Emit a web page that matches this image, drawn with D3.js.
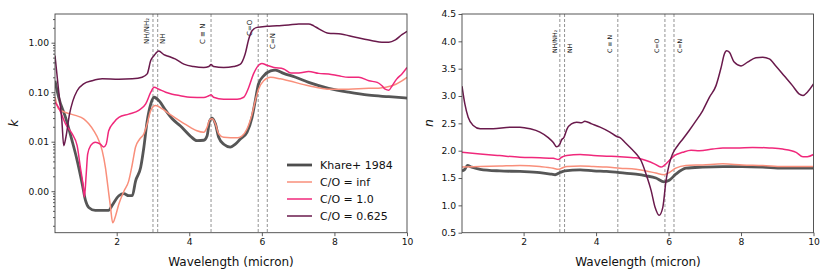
<!DOCTYPE html>
<html>
<head>
<meta charset="utf-8">
<script src="https://cdn.jsdelivr.net/npm/d3@7"></script>
<style>
  body { margin: 0; background: #fff; }
  svg { font-family: "DejaVu Sans", sans-serif; }
</style>
</head>
<body>
<div id="chart"></div>
<script>
// values: [wavelength (micron), value]
const khareK = [[0.3,0.17],[0.4,0.079],[0.59,0.031],[0.77,0.0105],[0.91,0.0042],[1.05,0.0014],[1.14,0.00065],[1.23,0.00047],[1.41,0.00041],[1.78,0.00041],[1.87,0.00051],[2.06,0.00081],[2.2,0.00089],[2.33,0.00081],[2.43,0.00081],[2.52,0.0016],[2.66,0.003],[2.75,0.0078],[2.84,0.026],[2.94,0.058],[3.03,0.079],[3.16,0.068],[3.35,0.043],[3.53,0.029],[3.75,0.021],[4.03,0.013],[4.21,0.0105],[4.4,0.0107],[4.49,0.013],[4.56,0.026],[4.63,0.03],[4.72,0.023],[4.81,0.0123],[4.95,0.0089],[5.13,0.0078],[5.27,0.0089],[5.4,0.0112],[5.59,0.0155],[5.73,0.031],[5.82,0.068],[5.91,0.148],[6.05,0.214],[6.24,0.27],[6.37,0.28],[6.6,0.24],[6.93,0.2],[7.29,0.158],[7.84,0.12],[8.39,0.1],[8.95,0.087],[9.5,0.081],[10,0.076]];
const infK = [[0.3,0.079],[0.4,0.046],[0.59,0.039],[0.86,0.034],[1.09,0.029],[1.23,0.023],[1.37,0.0166],[1.51,0.0105],[1.6,0.0066],[1.69,0.003],[1.76,0.0012],[1.83,0.00047],[1.89,0.00023],[1.97,0.00032],[2.06,0.00055],[2.2,0.001],[2.33,0.0016],[2.43,0.0035],[2.52,0.0078],[2.63,0.0112],[2.75,0.0145],[2.84,0.023],[2.94,0.043],[3.07,0.054],[3.26,0.046],[3.46,0.036],[3.75,0.026],[4.03,0.0195],[4.21,0.0166],[4.4,0.0155],[4.49,0.0195],[4.56,0.0275],[4.63,0.029],[4.72,0.023],[4.81,0.0145],[4.95,0.0123],[5.32,0.012],[5.45,0.013],[5.59,0.018],[5.73,0.036],[5.82,0.068],[5.91,0.115],[6.05,0.17],[6.24,0.2],[6.51,0.186],[6.74,0.17],[7.29,0.135],[7.84,0.115],[8.39,0.115],[8.95,0.12],[9.22,0.12],[9.4,0.126],[9.59,0.135],[9.86,0.17],[10,0.2]];
const co1K = [[0.3,0.063],[0.4,0.049],[0.59,0.023],[0.77,0.0145],[0.91,0.0083],[1.0,0.003],[1.07,0.0014],[1.11,0.00076],[1.16,0.0022],[1.2,0.0056],[1.28,0.0083],[1.41,0.0098],[1.55,0.0089],[1.64,0.0078],[1.71,0.0089],[1.78,0.0166],[1.92,0.0245],[2.06,0.031],[2.33,0.036],[2.61,0.043],[2.8,0.058],[2.94,0.1],[3.03,0.126],[3.16,0.115],[3.35,0.1],[3.53,0.091],[3.75,0.085],[4.03,0.079],[4.4,0.078],[4.54,0.085],[4.6,0.089],[4.67,0.079],[4.95,0.072],[5.32,0.072],[5.5,0.079],[5.64,0.126],[5.77,0.234],[5.91,0.35],[6.0,0.38],[6.14,0.35],[6.33,0.316],[6.6,0.295],[6.8,0.245],[7.02,0.245],[7.29,0.263],[7.57,0.24],[7.84,0.234],[8.12,0.214],[8.39,0.2],[8.67,0.2],[8.95,0.17],[9.18,0.158],[9.31,0.135],[9.4,0.115],[9.5,0.11],[9.59,0.135],[9.72,0.186],[9.86,0.234],[10,0.316]];
const co0625K = [[0.3,0.55],[0.39,0.126],[0.49,0.026],[0.54,0.0083],[0.6,0.0123],[0.7,0.036],[0.79,0.066],[0.91,0.107],[1.09,0.148],[1.32,0.17],[1.6,0.186],[2.06,0.182],[2.43,0.186],[2.7,0.2],[2.84,0.234],[2.94,0.44],[3.03,0.55],[3.16,0.68],[3.3,0.575],[3.44,0.525],[3.61,0.47],[3.85,0.37],[4.12,0.33],[4.4,0.316],[4.54,0.33],[4.6,0.363],[4.67,0.33],[4.95,0.316],[5.22,0.33],[5.4,0.363],[5.54,0.59],[5.64,1.19],[5.73,1.74],[5.87,2.04],[6.14,2.14],[6.42,2.19],[6.74,2.29],[7.02,2.4],[7.29,2.4],[7.43,2.19],[7.57,1.91],[7.84,1.55],[8.12,1.51],[8.58,1.29],[9.04,1.1],[9.31,1.02],[9.5,1.02],[9.68,1.14],[9.86,1.45],[10,1.7]];

const khareN = [[0.3,1.63],[0.38,1.66],[0.45,1.73],[0.57,1.7],[0.8,1.66],[1.34,1.63],[1.9,1.62],[2.45,1.6],[2.77,1.57],[2.87,1.56],[3.0,1.6],[3.14,1.63],[3.56,1.65],[3.93,1.63],[4.29,1.62],[4.66,1.6],[5.1,1.57],[5.38,1.54],[5.65,1.5],[5.88,1.43],[6.02,1.46],[6.2,1.57],[6.48,1.68],[6.94,1.7],[7.5,1.71],[8.04,1.71],[8.6,1.7],[9.15,1.68],[9.71,1.68],[10,1.68]];
const infN = [[0.3,1.7],[0.8,1.71],[1.34,1.72],[1.9,1.73],[2.45,1.71],[2.82,1.68],[2.96,1.66],[3.05,1.68],[3.19,1.71],[3.56,1.72],[3.93,1.71],[4.29,1.7],[4.66,1.68],[5.1,1.66],[5.38,1.63],[5.65,1.59],[5.88,1.56],[6.02,1.6],[6.2,1.68],[6.48,1.73],[6.94,1.74],[7.5,1.76],[8.04,1.74],[8.6,1.73],[9.15,1.71],[9.71,1.71],[10,1.71]];
const co1N = [[0.3,1.97],[0.8,1.94],[1.34,1.91],[1.9,1.88],[2.45,1.87],[2.82,1.86],[2.96,1.84],[3.05,1.88],[3.19,1.91],[3.56,1.93],[3.93,1.91],[4.29,1.9],[4.66,1.89],[5.1,1.87],[5.38,1.82],[5.61,1.76],[5.79,1.7],[5.88,1.73],[6.02,1.82],[6.16,1.91],[6.39,1.97],[6.62,2.01],[6.85,2.0],[7.22,2.03],[7.5,2.05],[7.87,2.05],[8.32,2.06],[8.78,2.05],[9.15,2.03],[9.52,1.97],[9.71,1.89],[9.83,1.89],[10,1.93]];
const co0625N = [[0.3,3.18],[0.38,2.85],[0.47,2.61],[0.61,2.46],[0.8,2.4],[1.16,2.4],[1.62,2.43],[1.9,2.43],[2.18,2.4],[2.45,2.34],[2.68,2.24],[2.82,2.15],[2.91,2.07],[2.99,2.11],[3.05,2.2],[3.11,2.24],[3.2,2.4],[3.32,2.49],[3.46,2.52],[3.6,2.51],[3.69,2.54],[3.88,2.49],[4.11,2.43],[4.38,2.34],[4.57,2.26],[4.66,2.24],[4.8,2.15],[4.98,2.03],[5.1,1.95],[5.24,1.82],[5.38,1.57],[5.52,1.27],[5.63,0.96],[5.74,0.82],[5.84,0.96],[5.93,1.45],[6.02,1.76],[6.11,1.94],[6.25,2.09],[6.39,2.21],[6.57,2.37],[6.76,2.55],[6.94,2.73],[7.13,2.98],[7.31,3.19],[7.45,3.52],[7.54,3.77],[7.6,3.83],[7.68,3.8],[7.81,3.62],[8.0,3.55],[8.18,3.62],[8.41,3.7],[8.6,3.71],[8.78,3.68],[8.96,3.55],[9.19,3.37],[9.42,3.19],[9.6,3.04],[9.71,3.01],[9.83,3.07],[10,3.22]];

const seriesNames = ["Khare+ 1984", "C/O = inf", "C/O = 1.0", "C/O = 0.625"];
const bandNames = ["NH/NH\u2082", "NH", "C \u2261 N", "C=O", "C=N"];
const bandWaves = [3.0, 3.13, 4.6, 5.9, 6.15];
const xTicks = [2, 4, 6, 8, 10];
const kTicks = [0.001, 0.01, 0.1, 1];
const nTicks = [0.5, 1.0, 1.5, 2.0, 2.5, 3.0, 3.5, 4.0, 4.5];

// styling
const colors = ["#4d4d4d", "#f98f7b", "#f0287b", "#6a1a4c"];
const widths = [2.8, 1.5, 1.5, 1.5];
const bandDx = [-5.5, 5, -8, -8.5, 5.8];     // label offset from its line, px
const bandBottomK = [44, 44, 44, 36, 49];     // label bottom y, left panel
const bandBottomN = [53, 53, 53, 53, 53];

const W = 830, H = 277;
const svg = d3.select("#chart").append("svg")
    .attr("width", W)
    .attr("height", H);

function makePanel(left, right, y) {
    const g = svg.append("g");
    const x = d3.scaleLinear().domain([0.3, 10]).range([left, right]);
    return { g: g, x: x, y: y, left: left, right: right, top: 14, bottom: 232.7 };
}

const pk = makePanel(55, 407,
    d3.scaleLog().domain([1.45e-4, 3.8]).range([232.7, 14]));
const pn = makePanel(462, 813.5,
    d3.scaleLinear().domain([0.5, 4.5]).range([232.7, 14]));

function drawAxes(p, yTicks, yFmt, minor) {
    p.g.append("g")
        .attr("transform", "translate(0," + p.bottom + ")")
        .call(d3.axisBottom(p.x).tickValues(xTicks).tickSize(3.5).tickPadding(2).tickFormat(d3.format("d")))
        .call(a => a.select(".domain").remove());

    p.g.append("g")
        .attr("transform", "translate(" + p.left + ",0)")
        .call(d3.axisLeft(p.y).tickValues(yTicks).tickSize(3.5).tickPadding(2.5).tickFormat(yFmt))
        .call(a => a.select(".domain").remove());

    if (minor) {
        p.g.append("g")
            .attr("transform", "translate(" + p.left + ",0)")
            .call(d3.axisLeft(p.y).tickValues(minor).tickSize(2).tickFormat(""))
            .call(a => a.select(".domain").remove());
    }

    p.g.selectAll(".tick text")
        .attr("font-size", 9.2)
        .attr("font-family", "DejaVu Sans")
        .attr("fill", "#111");
    p.g.selectAll(".tick line").attr("stroke", "#333").attr("stroke-width", 0.8);
}

function drawBands(p, bottoms, fsize) {
    bandWaves.forEach((w, i) => {
        p.g.append("line")
            .attr("x1", p.x(w)).attr("x2", p.x(w))
            .attr("y1", p.top).attr("y2", p.bottom)
            .attr("stroke", "#777")
            .attr("stroke-width", 0.8)
            .attr("stroke-dasharray", "3,2");
        p.g.append("text")
            .attr("transform", "translate(" + (p.x(w) + bandDx[i]) + "," + bottoms[i] + ") rotate(-90)")
            .attr("dominant-baseline", "central")
            .attr("font-size", fsize)
            .attr("fill", "#111")
            .text(bandNames[i]);
    });
}

function drawLines(p, sets) {
    const line = d3.line()
        .x(d => p.x(d[0]))
        .y(d => p.y(d[1]))
        .curve(d3.curveMonotoneX);
    sets.forEach((s, i) => {
        p.g.append("path")
            .datum(s)
            .attr("d", line)
            .attr("fill", "none")
            .attr("stroke", colors[i])
            .attr("stroke-width", widths[i])
            .attr("stroke-linejoin", "round")
            .attr("opacity", i === 0 ? 0.95 : 1);
    });
}

function drawFrame(p) {
    p.g.append("rect")
        .attr("x", p.left).attr("y", p.top)
        .attr("width", p.right - p.left)
        .attr("height", p.bottom - p.top)
        .attr("fill", "none")
        .attr("stroke", "#444")
        .attr("stroke-width", 0.9);
}

function axisTitle(x, y, txt, rot, italic, size) {
    svg.append("text")
        .attr("transform", "translate(" + x + "," + y + ")" + (rot ? " rotate(-90)" : ""))
        .attr("text-anchor", "middle")
        .attr("font-size", size)
        .attr("font-style", italic ? "italic" : "normal")
        .attr("fill", "#111")
        .text(txt);
}

// minor ticks for the log axis
const kMinor = pk.y.ticks().filter(v => kTicks.indexOf(v) < 0 && v >= 1.45e-4 && v <= 3.8);

// clip so curves stay inside the frame
function clip(p, id) {
    svg.append("clipPath").attr("id", id).append("rect")
        .attr("x", p.left).attr("y", p.top)
        .attr("width", p.right - p.left).attr("height", p.bottom - p.top);
}
clip(pk, "ck");
clip(pn, "cn");

drawAxes(pk, kTicks, d3.format(".2f"), kMinor);
drawAxes(pn, nTicks, d3.format(".1f"), null);

drawBands(pk, bandBottomK, 7);
drawBands(pn, bandBottomN, 6.2);

const lk = pk.g.append("g").attr("clip-path", "url(#ck)");
drawLines({ g: lk, x: pk.x, y: pk.y }, [khareK, infK, co1K, co0625K]);
const ln = pn.g.append("g").attr("clip-path", "url(#cn)");
drawLines({ g: ln, x: pn.x, y: pn.y }, [khareN, infN, co1N, co0625N]);

drawFrame(pk);
drawFrame(pn);

axisTitle(231, 266, "Wavelength (micron)", false, false, 12);
axisTitle(638, 266, "Wavelength (micron)", false, false, 12);
axisTitle(18, 123, "k", true, true, 12.5);
axisTitle(433, 123, "n", true, true, 12.5);

// legend
const leg = pk.g.append("g");
seriesNames.forEach((name, i) => {
    const yy = 165 + i * 17;
    leg.append("line")
        .attr("x1", 287).attr("x2", 312)
        .attr("y1", yy).attr("y2", yy)
        .attr("stroke", colors[i])
        .attr("stroke-width", widths[i]);
    leg.append("text")
        .attr("x", 320).attr("y", yy)
        .attr("dominant-baseline", "central")
        .attr("font-size", 11)
        .attr("fill", "#111")
        .text(name);
});
</script>
</body>
</html>
